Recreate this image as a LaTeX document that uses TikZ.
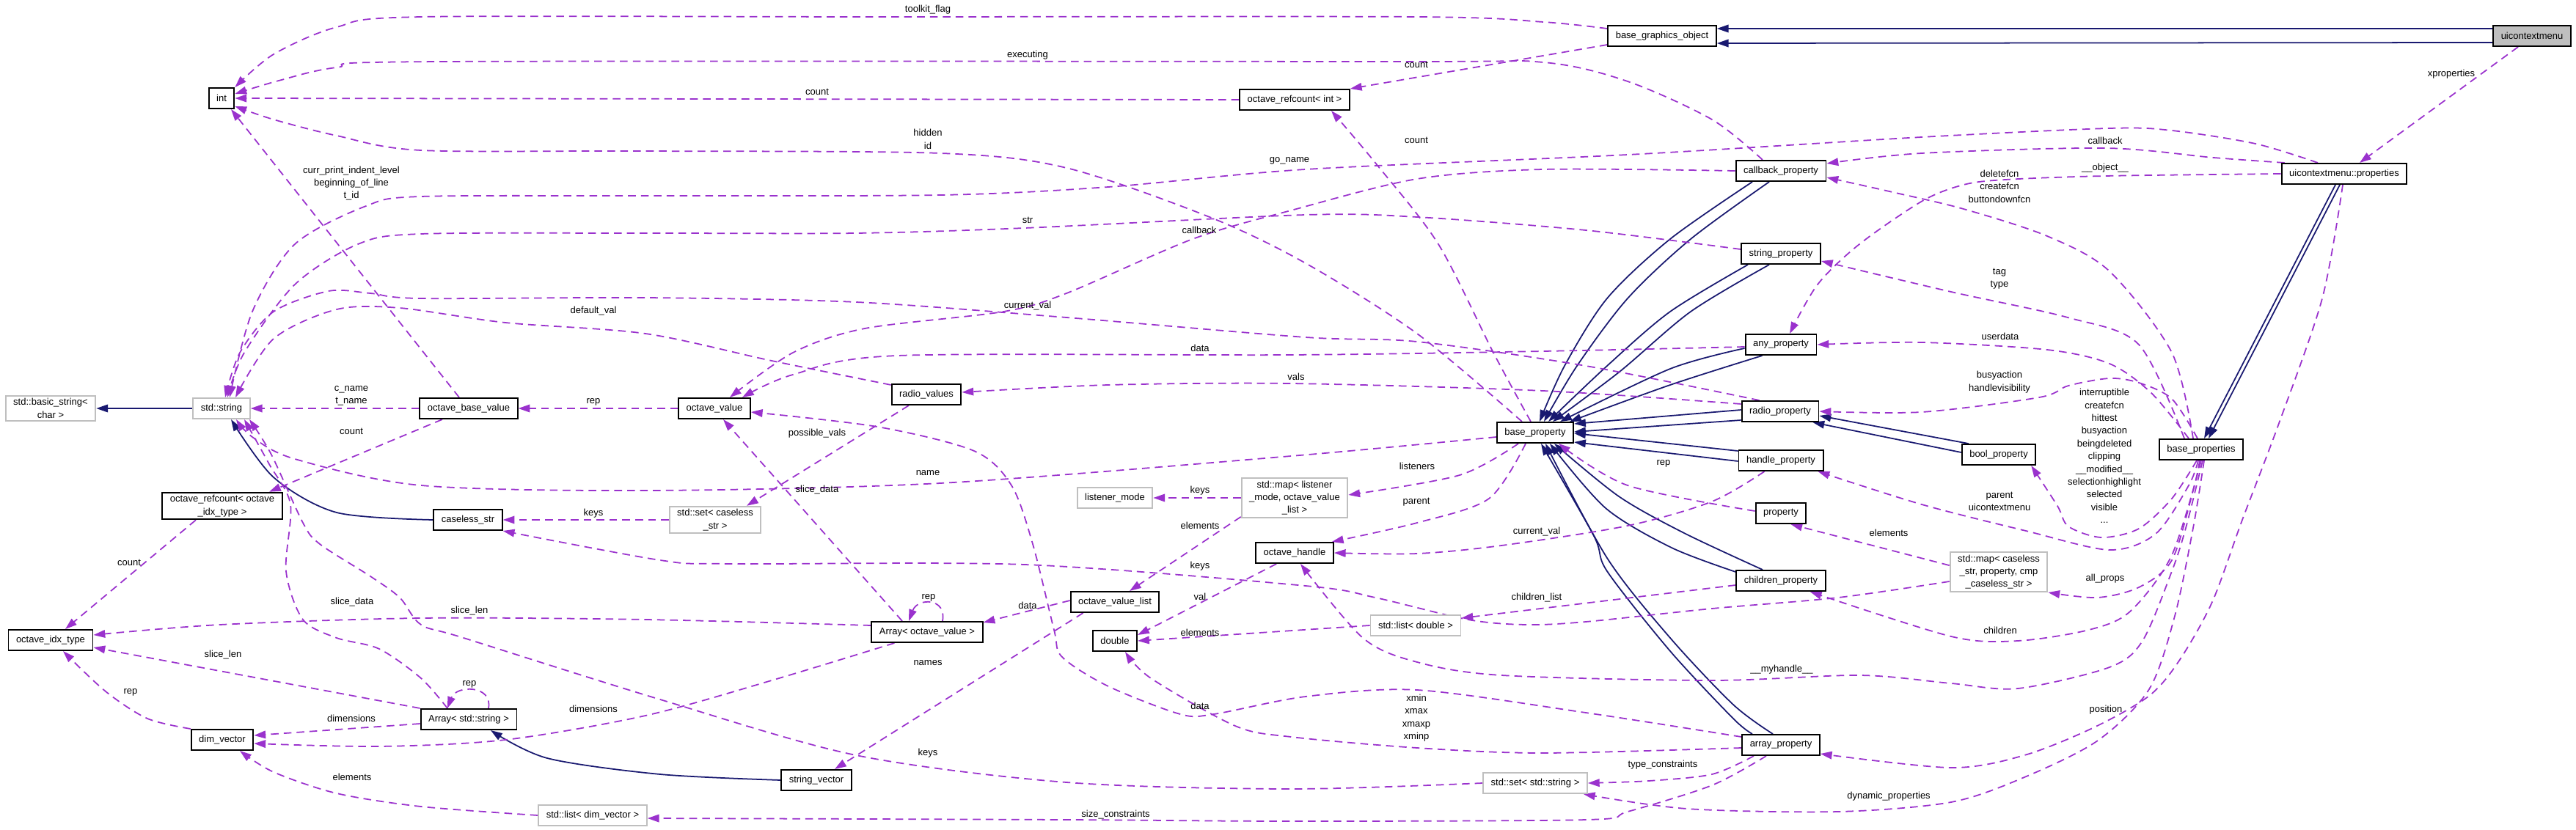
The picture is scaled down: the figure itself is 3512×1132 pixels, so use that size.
\documentclass[tikz,border=0pt]{standalone}
\usepackage{fontspec}
\setmainfont{Liberation Sans}
\usetikzlibrary{arrows.meta,positioning,calc,backgrounds}
\definecolor{dxpurple}{RGB}{154,50,205}
\definecolor{dxnavy}{RGB}{25,25,112}
\definecolor{dxgray}{RGB}{191,191,191}
\tikzset{
  cls/.style={draw=black, line width=1.1pt, fill=white, minimum height=16pt, inner xsep=6pt, inner ysep=2pt, align=center, font=\fontsize{7.4}{9.9}\selectfont},
  extcls/.style={cls, draw=dxgray},
  rootcls/.style={cls, fill=dxgray},
  lbl/.style={inner sep=0pt, align=center, font=\fontsize{7.4}{9.9}\selectfont},
  memberedge/.style={draw=dxpurple, line width=1pt, dash pattern=on 6pt off 4pt, -{Triangle[length=9pt,width=6pt]}},
  baseedge/.style={draw=dxnavy, line width=1pt, -{Triangle[length=9pt,width=6pt]}},
}

\begin{document}
\begin{tikzpicture}[x=0.02cm, y=-0.02cm]
  \useasboundingbox (0,0) rectangle (3512,1132);

  %% documented classes
  \node[rootcls] (uicm) at (3452,49) {uicontextmenu};
  \node[cls] (bgo) at (2266,49) {base\_graphics\_object};
  \node[cls] (int) at (302,134) {int};
  \node[cls] (rcint) at (1765,136) {octave\_refcount< int >};
  \node[cls] (uiprops) at (3196,237) {uicontextmenu::properties};
  \node[cls] (cbprop) at (2428,233) {callback\_property};
  \node[cls] (strprop) at (2428,346) {string\_property};
  \node[cls] (anyprop) at (2428,470) {any\_property};
  \node[cls] (radprop) at (2427,561) {radio\_property};
  \node[cls] (baseprop) at (2093,590) {base\_property};
  \node[cls] (handprop) at (2428,628) {handle\_property};
  \node[cls] (boolprop) at (2725,620) {bool\_property};
  \node[cls] (baseprops) at (3001,613) {base\_properties};
  \node[cls] (prop) at (2428,700) {property};
  \node[cls] (childprop) at (2428,792) {children\_property};
  \node[cls] (arrprop) at (2428,1016) {array\_property};
  \node[cls] (ovbase) at (639,557) {octave\_base\_value};
  \node[cls] (ovalue) at (974,557) {octave\_value};
  \node[cls] (radvals) at (1263,538) {radio\_values};
  \node[cls] (rcidx) at (303,690) {octave\_refcount< octave\\\_idx\_type >};
  \node[cls] (cstr) at (638,709) {caseless\_str};
  \node[cls] (idxtype) at (69,873) {octave\_idx\_type};
  \node[cls] (arrstr) at (639,981) {Array< std::string >};
  \node[cls] (dimvec) at (303,1009) {dim\_vector};
  \node[cls] (arrov) at (1264,862) {Array< octave\_value >};
  \node[cls] (ovlist) at (1520,821) {octave\_value\_list};
  \node[cls] (dbl) at (1520,874) {double};
  \node[cls] (svec) at (1113,1064) {string\_vector};
  \node[cls] (ohandle) at (1765,754) {octave\_handle};

  %% std types
  \node[extcls] (bstr) at (69,557) {std::basic\_string<\\char >};
  \node[extcls] (stdstr) at (302,557) {std::string};
  \node[extcls] (setcs) at (975,709) {std::set< caseless\\\_str >};
  \node[extcls] (lmode) at (1520,679) {listener\_mode};
  \node[extcls] (maplis) at (1765,679) {std::map< listener\\\_mode, octave\_value\\\_list >};
  \node[extcls] (listdbl) at (1930,853) {std::list< double >};
  \node[extcls] (mapcs) at (2725,780) {std::map< caseless\\\_str, property, cmp\\\_caseless\_str >};
  \node[extcls] (setstr) at (2093,1068) {std::set< std::string >};
  \node[extcls] (listdim) at (808,1112) {std::list< dim\_vector >};

  \begin{scope}[on background layer]
  %% inheritance
  \draw[baseedge] ($(uicm.west)+(0,-10)$) -- ($(bgo.east)+(0,-10)$);
  \draw[baseedge] ($(uicm.west)+(0,9)$) -- ($(bgo.east)+(0,10)$);
  \draw[baseedge] ($(uiprops.south)+(-12,0)$) -- ($(baseprops.north)+(4,0)$);
  \draw[baseedge] ($(uiprops.south)+(-6,0)$) -- ($(baseprops.north)+(10,0)$);
  \draw[baseedge] plot[smooth] coordinates {($(cbprop.south)+(-39,0)$) (2277,326) (2191,407) (2133,499) ($(baseprop.north)+(6,0)$)};
  \draw[baseedge] plot[smooth] coordinates {($(cbprop.south)+(-16,0)$) (2305,326) (2219,407) (2150,499) ($(baseprop.north)+(12,0)$)};
  \draw[baseedge] plot[smooth] coordinates {($(strprop.south)+(-45,0)$) (2277,425) (2191,499) ($(baseprop.north)+(18,0)$)};
  \draw[baseedge] plot[smooth] coordinates {($(strprop.south)+(-16,0)$) (2305,425) (2208,507) ($(baseprop.north)+(24,0)$)};
  \draw[baseedge] plot[smooth] coordinates {($(anyprop.west)+(0,5)$) (2277,503) ($(baseprop.north)+(34,0)$)};
  \draw[baseedge] plot[smooth] coordinates {($(anyprop.south west)+(24,0)$) (2277,525) ($(baseprop.north east)+(-6,0)$)};
  \draw[baseedge] ($(radprop.west)+(0,-2)$) -- ($(baseprop.east)+(0,-12)$);
  \draw[baseedge] ($(radprop.west)+(0,12)$) -- ($(baseprop.east)+(0,-1)$);
  \draw[baseedge] ($(handprop.west)+(0,-13)$) -- ($(baseprop.east)+(0,1)$);
  \draw[baseedge] ($(handprop.west)+(0,1)$) -- ($(baseprop.east)+(0,13)$);
  \draw[baseedge] plot[smooth] coordinates {($(childprop.north west)+(0,3)$) (2279,747) (2189,693) ($(baseprop.south)+(20,0)$)};
  \draw[baseedge] plot[smooth] coordinates {($(childprop.north)+(-25,0)$) (2296,727) (2207,677) ($(baseprop.south)+(26,0)$)};
  \draw[baseedge] plot[smooth] coordinates {($(arrprop.north)+(-39,0)$) (2363,980) (2277,888) (2191,779) (2173,731) ($(baseprop.south)+(8,0)$)};
  \draw[baseedge] plot[smooth] coordinates {($(arrprop.north)+(-11,0)$) (2363,961) (2277,870) (2191,761) ($(baseprop.south)+(14,0)$)};
  \draw[baseedge] ($(boolprop.north west)+(10,0)$) -- ($(radprop.east)+(0,6)$);
  \draw[baseedge] ($(boolprop.west)+(0,-3)$) -- ($(radprop.south east)+(-9,0)$);
  \draw[baseedge] (stdstr.west) -- (bstr.east);
  \draw[baseedge] plot[smooth] coordinates {(cstr.west) (459,699) (373,651) ($(stdstr.south)+(13,0)$)};
  \draw[baseedge] plot[smooth] coordinates {(svec.west) (900,1056) (746,1034) ($(arrstr.south)+(30,0)$)};

  %% members: int
  \draw[memberedge] plot[smooth] coordinates {($(bgo.west)+(0,-10)$) (2104,30) (1932,23) (1200,23) (574,23) (459,37) (373,74) (int.north east)};
  \draw[memberedge] plot[smooth] coordinates {($(cbprop.north)+(-25,0)$) (2334,163) (2219,111) (2104,85) (1900,84) (603,84) (459,92) (380,110) ($(int.east)+(0,-6)$)};
  \draw[memberedge] (rcint.west) -- (int.east);
  \draw[memberedge] plot[smooth] coordinates {($(baseprop.north)+(-18,0)$) (1932,455) (1780,359) (1649,296) (1454,229) (1282,209) (880,206) (574,205) (459,185) (373,163) ($(int.east)+(0,11)$)};
  \draw[memberedge] ($(ovbase.north)+(-13,0)$) -- ($(int.south)+(13,0)$);

  %% members: octave_refcount< int >
  \draw[memberedge] ($(bgo.west)+(0,12)$) -- (rcint.north east);
  \draw[memberedge] plot[smooth] coordinates {($(baseprop.north)+(-6,0)$) (2036,481) (1961,333) (1875,222) ($(rcint.south)+(50,0)$)};

  %% members: std::string
  \draw[memberedge] plot[smooth] coordinates {($(uiprops.north)+(-36,0)$) (3075,196) (2961,178) (2876,175) (2620,187) (2219,211) (1780,231) (1511,255) (1282,266) (880,267) (574,268) (499,281) (402,333) (344,425) ($(stdstr.north)+(11,0)$)};
  \draw[memberedge] plot[smooth] coordinates {($(strprop.west)+(0,-6)$) (2162,314) (1932,296) (1780,293) (1397,311) (1167,318) (880,318) (574,319) (488,333) (402,388) (333,481) ($(stdstr.north)+(8,0)$)};
  \draw[memberedge] plot[smooth] coordinates {($(radprop.north west)+(25,0)$) (2162,499) (1932,466) (1780,460) (1454,433) (1167,412) (880,406) (574,407) (505,400) (448,397) (373,425) (327,481) ($(stdstr.north)+(5,0)$)};
  \draw[memberedge] plot[smooth] coordinates {($(radvals.north west)+(0,2)$) (1052,492) (880,455) (689,440) (545,420) (459,422) (373,462) ($(stdstr.north)+(19,0)$)};
  \draw[memberedge] (ovbase.west) -- (stdstr.east);
  \draw[memberedge] plot[smooth] coordinates {($(baseprop.west)+(0,6)$) (1760,622) (1282,659) (880,669) (574,662) (402,626) (344,596) ($(stdstr.south)+(20,0)$)};
  \draw[memberedge] plot[smooth] coordinates {($(arrstr.north)+(-29,0)$) (574,925) (517,885) (459,870) (413,845) (390,779) (396,688) (367,633) ($(stdstr.south)+(31,0)$)};
  \draw[memberedge] plot[smooth] coordinates {(setstr.west) (1760,1076) (1454,1067) (1167,1030) (900,954) (632,870) (574,852) (545,815) (505,786) (436,742) (413,713) (370,620) ($(stdstr.south)+(38,0)$)};

  %% members: octave_value
  \draw[memberedge] plot[smooth] coordinates {(cbprop.west) (2104,231) (1932,244) (1760,287) (1626,326) (1454,400) (1368,425) (1179,448) (1081,481) ($(ovalue.north)+(21,0)$)};
  \draw[memberedge] plot[smooth] coordinates {($(anyprop.west)+(0,3)$) (2104,479) (1760,484) (1224,485) (1081,511) ($(ovalue.north)+(38,0)$)};
  \draw[memberedge] plot[smooth] coordinates {($(arrprop.west)+(0,-11)$) (2162,972) (1932,941) (1780,950) (1655,974) (1609,974) (1511,936) (1448,896) (1437,859) (1408,742) (1379,662) (1328,615) (1196,582) ($(ovalue.east)+(0,5)$)};
  \draw[memberedge] ($(arrov.north)+(-34,0)$) -- ($(ovalue.south)+(12,0)$);
  \draw[memberedge] (ovalue.west) -- (ovbase.east);

  %% members: radio_values, caseless_str, listeners
  \draw[memberedge] plot[smooth] coordinates {($(radprop.west)+(0,-10)$) (2104,533) (1760,523) (1511,525) ($(radvals.east)+(0,-3)$)};
  \draw[memberedge] ($(radvals.south)+(-24,0)$) -- ($(setcs.north)+(43,0)$);
  \draw[memberedge] (setcs.west) -- (cstr.east);
  \draw[memberedge] plot[smooth] coordinates {($(mapcs.west)+(0,13)$) (2506,815) (2334,830) (2162,848) (2081,852) (2001,845) (1875,815) (1780,799) (1397,770) (995,769) (900,764) (cstr.south east)};
  \draw[memberedge] (maplis.west) -- (lmode.east);
  \draw[memberedge] plot[smooth] coordinates {($(baseprop.south)+(-23,0)$) (1990,648) ($(maplis.east)+(0,-4)$)};
  \draw[memberedge] ($(maplis.south west)+(0,-2)$) -- ($(ovlist.north)+(20,0)$);
  \draw[memberedge] ($(ovlist.west)+(0,-2)$) -- ($(arrov.north east)+(0,2)$);
  \draw[memberedge] ($(ovlist.south west)+(18,0)$) -- ($(svec.north)+(25,0)$);

  %% members: Array< octave_value >, Array< std::string >
  \draw[memberedge] ($(arrov.north)+(21,0)$) .. controls +(6,-32) and +(12,-32) .. ($(arrov.north)+(-25,0)$);
  \draw[memberedge] plot[smooth] coordinates {($(arrov.west)+(0,-9)$) (880,845) (574,843) (300,852) ($(idxtype.east)+(0,-7)$)};
  \draw[memberedge] plot[smooth] coordinates {($(arrov.south west)+(32,0)$) (1052,928) (880,976) (689,1009) (517,1018) ($(dimvec.east)+(0,5)$)};
  \draw[memberedge] ($(arrstr.north)+(27,0)$) .. controls +(6,-32) and +(12,-32) .. ($(arrstr.north)+(-29,0)$);
  \draw[memberedge] (arrstr.north west) -- ($(idxtype.east)+(0,10)$);
  \draw[memberedge] ($(arrstr.west)+(0,6)$) -- ($(dimvec.east)+(0,-6)$);

  %% members: octave_idx_type, dim_vector
  \draw[memberedge] ($(rcidx.south)+(-36,0)$) -- ($(idxtype.north)+(20,0)$);
  \draw[memberedge] plot[smooth] coordinates {(dimvec.north west) (201,980) (144,943) ($(idxtype.south)+(17,0)$)};
  \draw[memberedge] ($(ovbase.south)+(-36,0)$) -- ($(rcidx.north)+(64,0)$);
  \draw[memberedge] plot[smooth] coordinates {(listdim.west) (574,1100) (459,1082) (373,1053) ($(dimvec.south)+(24,0)$)};

  %% members: octave_handle, double
  \draw[memberedge] plot[smooth] coordinates {($(baseprop.south)+(-13,0)$) (2030,680) (1932,713) ($(ohandle.north east)+(-3,0)$)};
  \draw[memberedge] plot[smooth] coordinates {($(handprop.south west)+(36,0)$) (2334,684) (2219,717) (2047,744) (1932,755) (ohandle.east)};
  \draw[memberedge] plot[smooth] coordinates {($(baseprops.south)+(2,0)$) (2980,720) (2961,779) (2921,874) (2876,910) (2751,939) (2660,932) (2535,921) (2334,928) (2047,921) (1932,903) (1858,870) ($(ohandle.south)+(8,0)$)};
  \draw[memberedge] ($(ohandle.south west)+(29,0)$) -- ($(dbl.east)+(0,-8)$);
  \draw[memberedge] (listdbl.west) -- (dbl.east);
  \draw[memberedge] plot[smooth] coordinates {($(arrprop.west)+(0,4)$) (2104,1027) (1932,1020) (1760,1005) (1684,990) (1569,925) ($(dbl.south)+(14,0)$)};
  \draw[memberedge] ($(childprop.west)+(0,6)$) -- ($(listdbl.east)+(0,-10)$);
  \draw[memberedge] plot[smooth] coordinates {($(prop.west)+(0,-3)$) (2219,662) ($(baseprop.south)+(32,0)$)};
  \draw[memberedge] ($(mapcs.north west)+(0,19)$) -- ($(prop.south east)+(-22,0)$);

  %% members: uicontextmenu::properties
  \draw[memberedge] ($(uicm.south)+(-19,0)$) -- ($(uiprops.north)+(21,0)$);
  \draw[memberedge] plot[smooth] coordinates {($(uiprops.north west)+(5,0)$) (3018,215) (2870,202) (2620,209) ($(cbprop.east)+(0,-10)$)};
  \draw[memberedge] plot[smooth] coordinates {(uiprops.west) (2870,240) (2734,245) (2677,252) (2621,274) (2535,333) (2478,388) ($(anyprop.north)+(12,0)$)};
  \draw[memberedge] plot[smooth] coordinates {($(uiprops.south)+(-2,0)$) (3166,407) (3106,580) (3057,709) (3016,821) (2971,901) (2930,949) (2855,992) (2760,1030) (2660,1047) ($(arrprop.south east)+(0,-3)$)};

  %% members: base_properties
  \draw[memberedge] plot[smooth] coordinates {($(baseprops.north)+(-11,0)$) (2961,481) (2876,370) (2791,322) (2677,285) (2580,262) ($(cbprop.east)+(0,9)$)};
  \draw[memberedge] plot[smooth] coordinates {($(baseprops.north)+(-23,0)$) (2916,470) (2819,433) (2660,398) ($(strprop.east)+(0,10)$)};
  \draw[memberedge] plot[smooth] coordinates {($(baseprops.north)+(-17,0)$) (2933,536) (2876,496) (2791,477) (2620,467) (anyprop.east)};
  \draw[memberedge] plot[smooth] coordinates {($(baseprops.north)+(-5,0)$) (2961,544) (2916,522) (2876,516) (2820,526) (2780,542) (2620,562) (radprop.east)};
  \draw[memberedge] plot[smooth] coordinates {($(baseprops.south)+(-6,0)$) (2961,680) (2916,721) (2865,733) (2820,718) (2805,690) ($(boolprop.south east)+(-7,0)$)};
  \draw[memberedge] plot[smooth] coordinates {($(baseprops.south)+(-4,0)$) (2984,662) (2939,728) (2876,750) (2762,724) (2620,688) ($(handprop.south east)+(-8,0)$)};
  \draw[memberedge] plot[smooth] coordinates {($(baseprops.south)+(-2,0)$) (2990,669) (2961,764) (2916,801) (2859,815) ($(mapcs.east)+(0,28)$)};
  \draw[memberedge] plot[smooth] coordinates {(baseprops.south) (2961,757) (2904,834) (2848,859) (2751,874) (2660,868) ($(childprop.south east)+(-22,0)$)};
  \draw[memberedge] plot[smooth] coordinates {($(baseprops.south)+(4,0)$) (2990,720) (2965,840) (2930,940) (2860,1010) (2760,1060) (2660,1094) (2506,1107) (2300,1103) ($(setstr.south east)+(-6,0)$)};

  %% members: array_property
  \draw[memberedge] plot[smooth] coordinates {($(arrprop.south)+(-37,0)$) (2334,1056) (2248,1065) (setstr.east)};
  \draw[memberedge] plot[smooth] coordinates {($(arrprop.south)+(-20,0)$) (2334,1071) (2219,1107) (2162,1118) (1760,1120) (1454,1118) ($(listdim.east)+(0,4)$)};
  \end{scope}

  %% edge labels
  \node[lbl] (lbtoolkit) at (1265,13) {toolkit\_flag};
  \node[lbl] (lbexec) at (1401,75) {executing};
  \node[lbl] (lbcount1) at (1114,125) {count};
  \node[lbl] (lbhidden) at (1265,190) {hidden\\id};
  \node[lbl] (lbcount2) at (1931,88) {count};
  \node[lbl] (lbcount3) at (1931,191) {count};
  \node[lbl] (lbxprop) at (3342,101) {xproperties};
  \node[lbl] (lbcallback1) at (2870,192) {callback};
  \node[lbl] (lbgoname) at (1758,219) {go\_name};
  \node[lbl] (lbobject) at (2870,229) {\_\_object\_\_};
  \node[lbl] (lbdelete) at (2726,254) {deletefcn\\createfcn\\buttondownfcn};
  \node[lbl] (lbindent) at (479,250) {curr\_print\_indent\_level\\beginning\_of\_line\\t\_id};
  \node[lbl] (lbstr) at (1401,300) {str};
  \node[lbl] (lbcallback2) at (1635,314) {callback};
  \node[lbl] (lbtag) at (2726,380) {tag\\type};
  \node[lbl] (lbcurval1) at (1401,417) {current\_val};
  \node[lbl] (lbdefval) at (809,424) {default\_val};
  \node[lbl] (lbuserdata) at (2727,459) {userdata};
  \node[lbl] (lbdata1) at (1636,475) {data};
  \node[lbl] (lbbusy) at (2726,521) {busyaction\\handlevisibility};
  \node[lbl] (lbvals) at (1767,514) {vals};
  \node[lbl] (lbcname) at (479,540) {c\_name\\t\_name};
  \node[lbl] (lbrep1) at (809,548) {rep};
  \node[lbl] (lbbools) at (2869,622) {interruptible\\createfcn\\hittest\\busyaction\\beingdeleted\\clipping\\\_\_modified\_\_\\selectionhighlight\\selected\\visible\\...};
  \node[lbl] (lbcount4) at (479,588) {count};
  \node[lbl] (lbposs) at (1114,591) {possible\_vals};
  \node[lbl] (lbrep2) at (2268,632) {rep};
  \node[lbl] (lblisteners) at (1932,636) {listeners};
  \node[lbl] (lbname) at (1265,645) {name};
  \node[lbl] (lbslice1) at (1114,668) {slice\_data};
  \node[lbl] (lbkeys1) at (1636,669) {keys};
  \node[lbl] (lbparent1) at (2726,684) {parent\\uicontextmenu};
  \node[lbl] (lbparent2) at (1931,685) {parent};
  \node[lbl] (lbkeys2) at (809,700) {keys};
  \node[lbl] (lbelem1) at (1636,717) {elements};
  \node[lbl] (lbcurval2) at (2095,725) {current\_val};
  \node[lbl] (lbelem2) at (2575,727) {elements};
  \node[lbl] (lbcount5) at (176,767) {count};
  \node[lbl] (lbkeys3) at (1636,772) {keys};
  \node[lbl] (lballprops) at (2870,789) {all\_props};
  \node[lbl] (lbval) at (1636,814) {val};
  \node[lbl] (lbrep3) at (1266,815) {rep};
  \node[lbl] (lbchlist) at (2095,815) {children\_list};
  \node[lbl] (lbslice2) at (480,821) {slice\_data};
  \node[lbl] (lbdata2) at (1401,826) {data};
  \node[lbl] (lbslen1) at (640,833) {slice\_len};
  \node[lbl] (lbchildren) at (2727,860) {children};
  \node[lbl] (lbelem3) at (1636,863) {elements};
  \node[lbl] (lbslen2) at (304,893) {slice\_len};
  \node[lbl] (lbnames) at (1265,904) {names};
  \node[lbl] (lbmyhandle) at (2429,913) {\_\_myhandle\_\_};
  \node[lbl] (lbrep4) at (640,933) {rep};
  \node[lbl] (lbrep5) at (178,944) {rep};
  \node[lbl] (lbdata3) at (1636,963) {data};
  \node[lbl] (lbdim1) at (809,967) {dimensions};
  \node[lbl] (lbposition) at (2871,968) {position};
  \node[lbl] (lbxmin) at (1931,979) {xmin\\xmax\\xmaxp\\xminp};
  \node[lbl] (lbdim2) at (479,980) {dimensions};
  \node[lbl] (lbkeys4) at (1265,1027) {keys};
  \node[lbl] (lbtypec) at (2267,1043) {type\_constraints};
  \node[lbl] (lbelem4) at (480,1060) {elements};
  \node[lbl] (lbdynprop) at (2575,1086) {dynamic\_properties};
  \node[lbl] (lbsizec) at (1521,1111) {size\_constraints};
\end{tikzpicture}
\end{document}
